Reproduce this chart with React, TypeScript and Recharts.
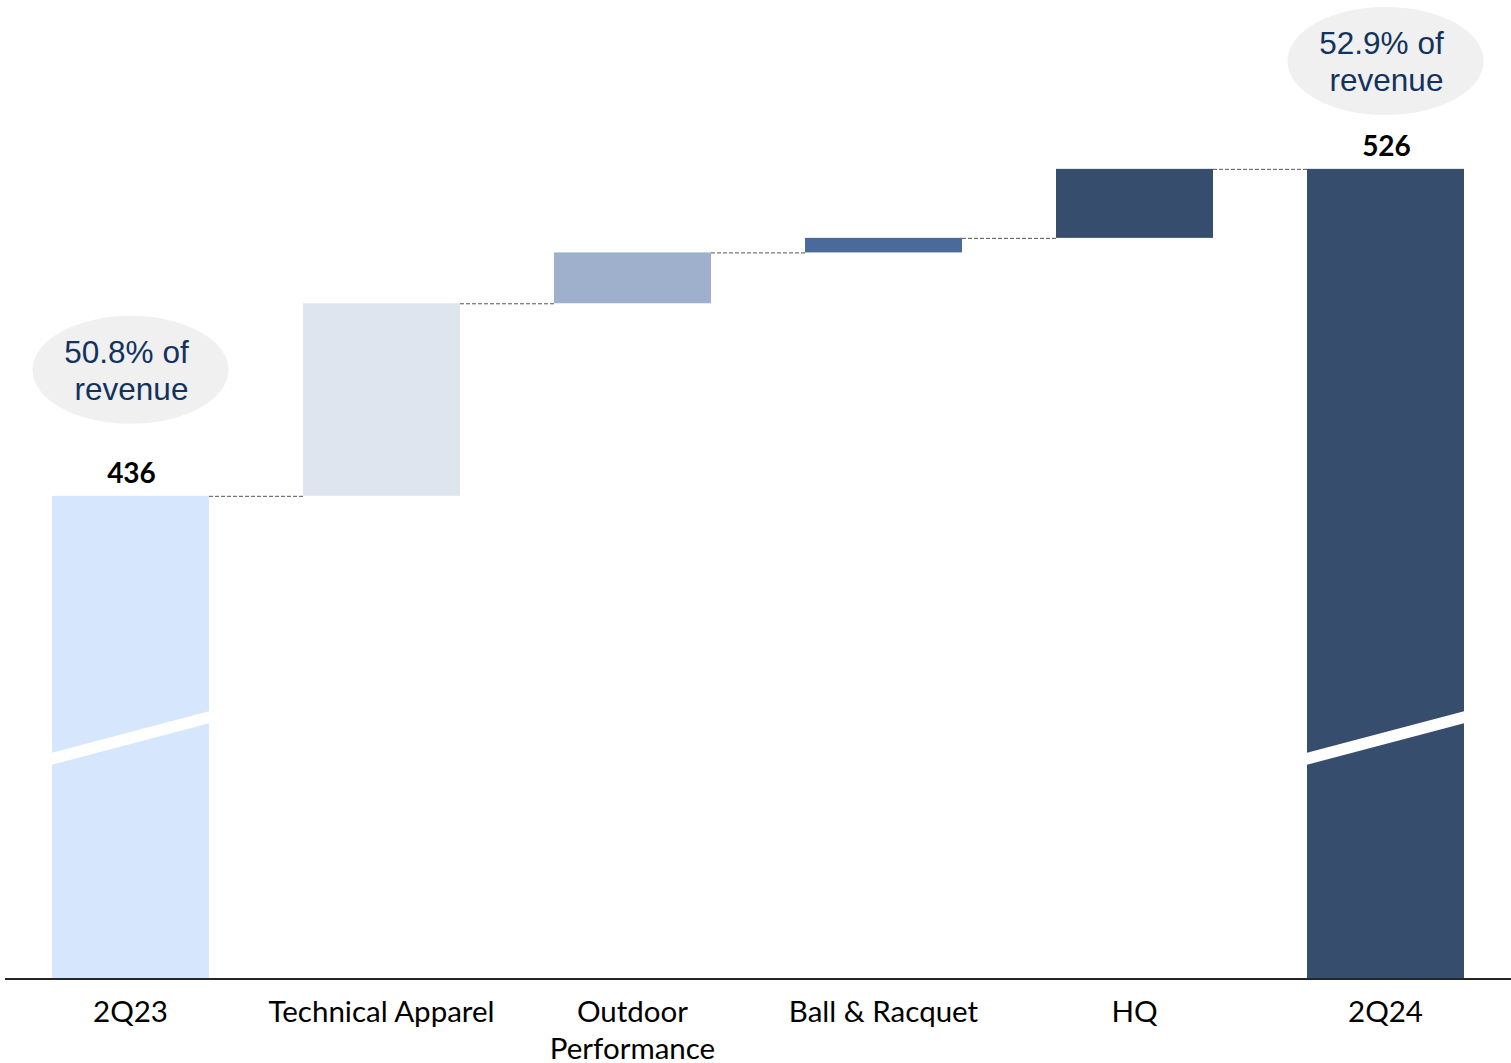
import React from "react";
import { Bar, BarChart, LabelList, XAxis, YAxis } from "recharts";

// Bridge from 2Q23 to 2Q24 (totals plus the step for each segment)
const categories = [
  "2Q23",
  "Technical Apparel",
  "Outdoor Performance",
  "Ball & Racquet",
  "HQ",
  "2Q24",
];
const values = [436, 53, 14, 4, 19, 526];
const isTotal = [true, false, false, false, false, true];
const revenueShare = ["50.8%", null, null, null, null, "52.9%"];

const COLORS = ["#d6e7fd", "#dee5ef", "#9eb0cc", "#4a6a9b", "#374d6e", "#374d6e"];

// the value axis is broken: totals start from here, with a slash drawn through them
const AXIS_MIN = 303;
const AXIS_MAX = 570;

const CHART_W = 1511;
const CHART_H = 1063;
const MARGIN = { top: 9, right: 0, left: 5, bottom: 0 };
const BAR_W = 157;
const BAND = (CHART_W - MARGIN.left - MARGIN.right) / categories.length;

const TICK_FONT = 29.5;
const TICK_MAX_CHARS = 18;

let running = 0;
const data = categories.map((name, i) => {
  let range: [number, number];
  if (isTotal[i]) {
    range = [AXIS_MIN, values[i]];
    running = values[i];
  } else {
    range = [running, running + values[i]];
    running += values[i];
  }
  return {
    name,
    range,
    total: isTotal[i] ? values[i] : null,
    share: revenueShare[i],
  };
});

// break long category names onto two lines at the last space
const wrapLabel = (s: string): string[] => {
  if (s.length <= TICK_MAX_CHARS) return [s];
  const cut = s.lastIndexOf(" ");
  return cut > 0 ? [s.slice(0, cut), s.slice(cut + 1)] : [s];
};

const StepShape = (props: any) => {
  const { x, y, width, height, index } = props;
  const bottom = y + height;
  const last = index === data.length - 1;
  return (
    <g>
      <rect x={x} y={y} width={width} height={height} fill={COLORS[index]} />
      {isTotal[index] && (
        <polygon
          points={`${x - 1},${bottom - 226} ${x + width + 1},${bottom - 268} ${x + width + 1},${bottom - 256} ${x - 1},${bottom - 214}`}
          fill="#ffffff"
        />
      )}
      {!last && (
        <line
          x1={x + width}
          x2={x + BAND}
          y1={y + 0.5}
          y2={y + 0.5}
          stroke="#555555"
          strokeWidth={1}
          strokeDasharray="4 2"
        />
      )}
    </g>
  );
};

const TotalLabel = (props: any) => {
  const { x, y, width, value, index } = props;
  if (value == null) return null;
  const cx = x + width / 2;
  const share = data[index].share;
  const cy = Math.max(y - 126, 61);
  return (
    <g>
      <text
        x={cx + 1}
        y={y - 13}
        textAnchor="middle"
        fontFamily="Lato"
        fontWeight="bold"
        fontSize={28}
        fill="#000000"
      >
        {value}
      </text>
      {share && (
        <g fontFamily="'Liberation Sans', Arial" fontSize={31.5} fill="#12325f" textAnchor="middle">
          <ellipse cx={cx} cy={cy} rx={98} ry={54} fill="#f0f0f0" />
          <text x={cx - 4} y={cy - 7}>
            {share} of
          </text>
          <text x={cx + 1} y={cy + 30}>
            revenue
          </text>
        </g>
      )}
    </g>
  );
};

const CategoryTick = (props: any) => {
  const { x, y, payload } = props;
  const lines = wrapLabel(String(payload.value));
  return (
    <text
      x={x}
      y={y + 35}
      textAnchor="middle"
      fontFamily="Lato"
      fontSize={TICK_FONT}
      fill="#000000"
    >
      {lines.map((line, i) => (
        <tspan key={i} x={x} dy={i === 0 ? 0 : 37}>
          {line}
        </tspan>
      ))}
    </text>
  );
};

export default function App() {
  return (
    <div style={{ position: "absolute", left: 0, top: 0, background: "#ffffff" }}>
      <BarChart width={CHART_W} height={CHART_H} data={data} margin={MARGIN}>
        <XAxis
          dataKey="name"
          interval={0}
          height={84}
          tickLine={false}
          axisLine={{ stroke: "#262626", strokeWidth: 2 }}
          tick={<CategoryTick />}
        />
        <YAxis hide domain={[AXIS_MIN, AXIS_MAX]} />
        <Bar dataKey="range" barSize={BAR_W} shape={<StepShape />} isAnimationActive={false}>
          <LabelList dataKey="total" content={<TotalLabel />} />
        </Bar>
      </BarChart>
    </div>
  );
}
